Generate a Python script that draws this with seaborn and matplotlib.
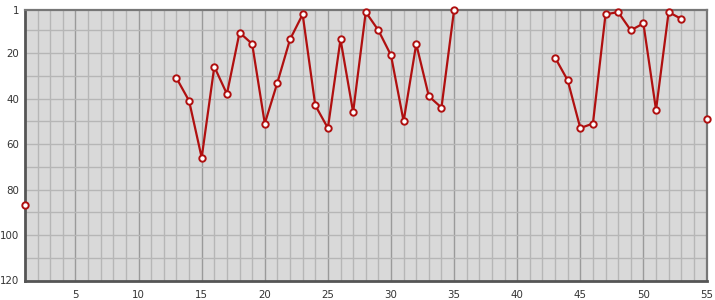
import numpy as np
import pandas as pd
import matplotlib
matplotlib.use("Agg")
import matplotlib.pyplot as plt
import seaborn as sns

nan = np.nan
x_values = list(range(1, 56))
ranks = [87, nan, nan, nan, nan, nan, nan, nan, nan, nan, nan, nan,
         31, 41, 66, 26, 38, 11, 16, 51, 33, 14, 3, 43, 53, 14, 46, 2, 10, 21,
         50, 16, 39, 44, 1,
         nan, nan, nan, nan, nan, nan, nan,
         22, 32, 53, 51, 3, 2, 10, 7, 45, 2, 5, nan, 49]
y_ticks = [1, 20, 40, 60, 80, 100, 120]
x_ticks = [5, 10, 15, 20, 25, 30, 35, 40, 45, 50, 55]

df = pd.DataFrame({"x": x_values, "rank": ranks})
# contiguous segments so gaps (missing ranks) break the line
df["seg"] = df["rank"].isna().cumsum()
df = df.dropna(subset=["rank"])

sns.set_theme(style="white")
plt.rcParams['font.family'] = ['DejaVu Sans']

fig = plt.figure(figsize=(7.15, 3.0), dpi=100)
ax = fig.add_axes([25 / 715, 1 - 280.5 / 300, (706.5 - 25) / 715, (280.5 - 9.8) / 300])
ax.set_facecolor("#d9d9d9")

# grid
for xv in range(2, 55):
    col = "#9a9a9a" if xv % 5 == 0 else "#b6b6b6"
    ax.axvline(xv, color=col, lw=1.0, zorder=0.5)
for yv in range(10, 120, 10):
    ax.axhline(yv, color="#b6b6b6", lw=1.0, zorder=0.5)

sns.lineplot(data=df, x="x", y="rank", units="seg", estimator=None, ax=ax,
             color="#b01010", lw=1.6,
             marker="o", markersize=4.6, markerfacecolor="white",
             markeredgecolor="#b01010", markeredgewidth=1.4, zorder=3,
             clip_on=False, sort=True)

ax.set_xlim(1, 55)
ax.set_ylim(120, 1)
ax.set_xticks(x_ticks)
ax.set_yticks(y_ticks)
ax.set_xticklabels([str(t) for t in x_ticks])
ax.set_yticklabels([str(t) for t in y_ticks])
ax.set_xlabel("")
ax.set_ylabel("")
ax.tick_params(axis="both", length=0, labelsize=7.4, labelcolor="#333333")
ax.tick_params(axis="x", pad=7)
ax.tick_params(axis="y", pad=4)

for side in ["left", "bottom"]:
    ax.spines[side].set_color("#555555")
    ax.spines[side].set_linewidth(2.0)
for side in ["top", "right"]:
    ax.spines[side].set_color("#777777")
    ax.spines[side].set_linewidth(1.6)

fig.savefig("out.png", dpi=100)
